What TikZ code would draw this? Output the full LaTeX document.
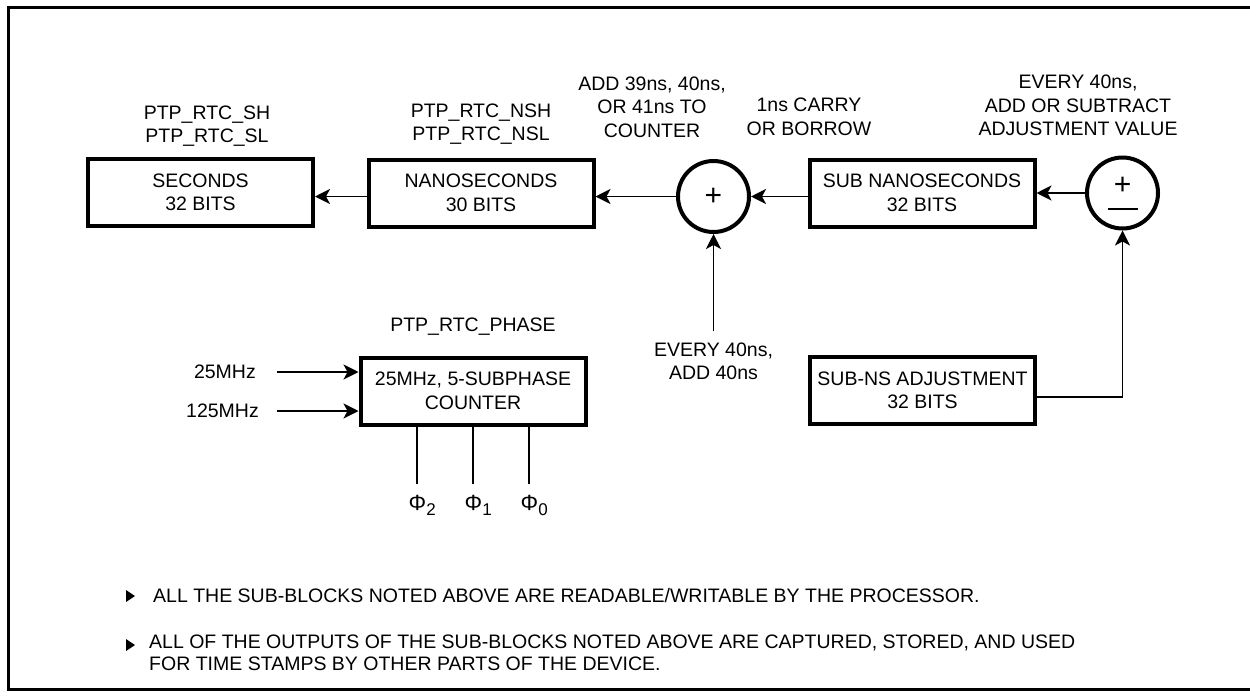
\documentclass[tikz,border=0pt]{standalone}
\usepackage{fontspec}
\setmainfont{Liberation Sans}
\usetikzlibrary{arrows.meta,positioning}

\begin{document}
\begin{tikzpicture}[
    x=1pt, y=-1pt,
    font=\fontsize{19.5}{23.5}\selectfont,
    box/.style={rectangle, draw, line width=4pt, minimum width=225pt, minimum height=67pt, align=center, inner sep=0pt},
    sum/.style={circle, draw, line width=4pt, minimum size=71pt, inner sep=0pt, font=\fontsize{30}{30}\selectfont},
    lbl/.style={align=center, inner sep=0pt},
    arr/.style={-{Stealth[length=15pt, width=15pt, inset=4pt]}, line width=1.8pt},
    wire/.style={line width=1.8pt}
]
\useasboundingbox (0,0) rectangle (1250,696);
\draw[line width=3pt] (1252,7) -- (8,7) -- (8,689) -- (1252,689);

% registers along the top
\node[box] (sec) at (200.5,192.5) {SECONDS\\32 BITS};
\node[box] (nano) at (481,193) {NANOSECONDS\\30 BITS};
\node[box] (subns) at (922,193) {SUB NANOSECONDS\\32 BITS};
\node[sum] (plus) at (713.5,196.5) {+};
\node[sum] (pm) at (1122.5,193) {};
\node[font=\fontsize{30}{30}\selectfont, inner sep=0pt] (pmplus) at ([yshift=7pt]pm.center) {+};
\draw[line width=2pt] ([xshift=-15pt, yshift=-16pt]pm.center) -- ++(30,0);

\node[lbl] (secLbl) at (207,126) {PTP\_RTC\_SH\\PTP\_RTC\_SL};
\node[lbl] (nanoLbl) at (481,124) {PTP\_RTC\_NSH\\PTP\_RTC\_NSL};
\node[lbl] (addLbl) at (652,107) {ADD 39ns, 40ns,\\OR 41ns TO\\COUNTER};
\node[lbl] (carryLbl) at (809,117) {1ns CARRY\\OR BORROW};
\node[lbl] (adjLbl) at (1078,105.5) {EVERY 40ns,\\ADD OR SUBTRACT\\ADJUSTMENT VALUE};

\draw[arr] (pm.west) -- (pm.west -| subns.east);
\draw[arr] (subns.west |- plus) -- (plus.east);
\draw[arr] (plus.west) -- (plus.west -| nano.east);
\draw[arr] (nano.west |- plus) -- (sec.east |- plus);

% adjustment input
\node[lbl] (eadd) at (713.5,361.5) {EVERY 40ns,\\ADD 40ns};
\draw[arr] ([yshift=12pt]eadd.north) -- (plus.south);
\node[box] (subadj) at (922.5,390.5) {SUB-NS ADJUSTMENT\\32 BITS};
\draw[arr] ([yshift=-6.5pt]subadj.east) -| (pm.south);

% phase counter
\node[box] (counter) at (473,391) {25MHz, 5-SUBPHASE\\COUNTER};
\node[lbl] (phaseLbl) at (473,327) {PTP\_RTC\_PHASE};
\node[lbl, anchor=east] (f25) at (256,372) {25MHz};
\node[lbl, anchor=east] (f125) at (259,411) {125MHz};
\draw[arr] ([xshift=21pt]f25.east) -- (f25.east -| counter.west);
\draw[arr] ([xshift=18pt]f125.east) -- (f125.east -| counter.west);

\coordinate (p2) at (417,484);
\coordinate (p1) at (473,484);
\coordinate (p0) at (529,484);
\foreach \i in {0,1,2} {
  \draw[wire] (counter.south -| p\i) -- (p\i);
  \node[lbl, anchor=north west, font=\fontsize{22}{22}\selectfont] (phi\i) at ([xshift=-8.5pt, yshift=-11pt]p\i) {Φ\raisebox{-5pt}{\fontsize{17}{17}\selectfont\i}};
}

% notes
\fill (126,590) -- (135,596) -- (126,602) -- cycle;
\node[lbl, anchor=west] (note1) at (153,596) {ALL THE SUB-BLOCKS NOTED ABOVE ARE READABLE/WRITABLE BY THE PROCESSOR.};
\fill (126,639) -- (135,645) -- (126,651) -- cycle;
\node[lbl, anchor=west, align=left, font=\fontsize{19.5}{22}\selectfont] (note2) at (149,653) {ALL OF THE OUTPUTS OF THE SUB-BLOCKS NOTED ABOVE ARE CAPTURED, STORED, AND USED\\FOR TIME STAMPS BY OTHER PARTS OF THE DEVICE.};
\end{tikzpicture}
\end{document}
